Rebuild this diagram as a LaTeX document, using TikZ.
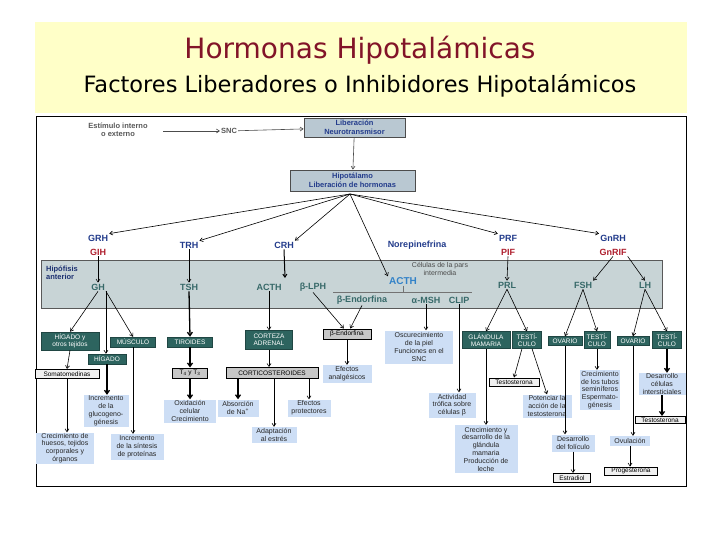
\documentclass[tikz,border=0pt]{standalone}
\usepackage{fontspec}
\setmainfont{Liberation Sans}
\newfontfamily\titlefont{DejaVu Sans}
\usetikzlibrary{arrows.meta}
\definecolor{titlered}{RGB}{130,20,40}
\definecolor{paleyellow}{RGB}{255,255,200}
\definecolor{hblue}{RGB}{35,60,140}
\definecolor{hred}{RGB}{175,30,45}
\definecolor{bandfill}{RGB}{200,212,214}
\definecolor{bandtext}{RGB}{55,105,105}
\definecolor{tealbox}{RGB}{45,100,95}
\definecolor{lightbox}{RGB}{205,222,245}
\definecolor{topfill}{RGB}{185,200,210}
\definecolor{acthblue}{RGB}{50,130,200}
\begin{document}
\begin{tikzpicture}[x=1pt,y=-1pt,
 arr/.style={-{Straight Barb[length=3pt,width=4pt]}, line width=0.6pt},
 thk/.style={-{Straight Barb[length=3.5pt,width=5pt]}, line width=1.3pt},
 tbox/.style={fill=tealbox, text=white, font=\fontsize{6.5}{7.2}\selectfont, align=center, inner sep=0.5pt, draw=tealbox!70!black, line width=0.5pt},
 lbox/.style={fill=lightbox, text=black!85, font=\fontsize{7}{7.8}\selectfont, align=center, inner sep=0.5pt},
 gbox/.style={fill=black!22, draw=black, line width=1pt, font=\fontsize{6.5}{7}\selectfont, align=center, inner sep=0.5pt},
 wbox/.style={fill=black!6, draw=black, line width=1pt, font=\fontsize{6.5}{7}\selectfont, align=center, inner sep=0.5pt},
 hl/.style={text=hblue, font=\fontsize{9}{10}\selectfont\bfseries, inner sep=1pt},
 hr/.style={text=hred, font=\fontsize{9}{10}\selectfont\bfseries, inner sep=1pt},
 bt/.style={text=bandtext, font=\fontsize{9}{10}\selectfont\bfseries, inner sep=1pt},
 topbox/.style={fill=topfill, draw=black!70, line width=0.8pt, text=hblue, font=\fontsize{7.5}{8.5}\selectfont\bfseries, align=center, inner sep=0.5pt},
 gtext/.style={text=black!65, font=\fontsize{7.5}{8.5}\selectfont\bfseries, align=center, inner sep=1pt},
 small/.style={text=black!70, font=\fontsize{7}{7.5}\selectfont, align=center, inner sep=0.5pt}
]
\useasboundingbox (0,0) rectangle (720,540);
\fill[white] (0,0) rectangle (720,540);
\fill[paleyellow] (35,22) rectangle (687,113);
\node[text=titlered, font=\titlefont\fontsize{28}{30}\selectfont] (title) at (360,50) {Hormonas Hipotalámicas};
\node[text=black, font=\titlefont\fontsize{22.5}{24}\selectfont] (subtitle) at (360,86) {Factores Liberadores o Inhibidores Hipotalámicos};
\draw[line width=1pt] (36,117) rectangle (686,486);

% top row
\node[gtext] (estimulo) at (118,130) {Estímulo interno\\o externo};
\node[gtext] (snc) at (229,131) {SNC};
\node[topbox, minimum width=101, minimum height=19] (lib) at (354.5,127.5) {Liberación\\Neurotransmisor};
\node[topbox, minimum width=125, minimum height=21] (hipo) at (352.5,180.5) {Hipotálamo\\Liberación de hormonas};
\coordinate (e1) at (163,131);
\draw[arr, black!70] (e1) -- (snc);
\draw[arr, black!70] (snc) -- (lib);
\draw[arr, black!70] (lib) -- (hipo);
\coordinate (hub) at (350,194);

% hypothalamic hormones
\node[hl] (grh) at (98,238) {GRH};
\node[hr] (gih) at (98,252) {GIH};
\node[hl] (trh) at (189,245) {TRH};
\node[hl] (crh) at (284,245) {CRH};
\node[hl] (nor) at (417,245) {Norepinefrina};
\node[hl] (prf) at (508,238) {PRF};
\node[hr] (pif) at (508,252) {PIF};
\node[hl] (gnrh) at (613,238) {GnRH};
\node[hr] (gnrif) at (613,252) {GnRIF};

% band
\node[fill=bandfill, draw=black!65, line width=0.8pt, minimum width=621, minimum height=48, inner sep=0] (band) at (351.5,284) {};
\node[text=hblue!80!black, font=\fontsize{7.5}{8.5}\selectfont\bfseries, align=left, inner sep=0.5pt] (hipof) at (62,273) {Hipófisis\\anterior};
\node[bt] (gh) at (98,287) {GH};
\node[bt] (tsh) at (189,287) {TSH};
\node[bt] (acth1) at (269,287) {ACTH};
\node[bt] (blph) at (313,287) {β-LPH};
\node[small] (pars) at (440,269) {Células de la pars\\intermedia};
\node[text=acthblue, font=\fontsize{10}{11}\selectfont\bfseries, inner sep=1pt] (acth2) at (403,281) {ACTH};
\coordinate (bl) at (333,292);
\coordinate (br) at (472,292);
\draw[black!55, line width=1pt] (bl) -- (br);
\draw[black!55, line width=0.6pt] (acth2.south) -- (acth2.south |- bl);
\node[bt] (bend) at (362,300) {β-Endorfina};
\node[bt] (amsh) at (426,300) {α-MSH};
\node[bt] (clip) at (459,300) {CLIP};
\node[bt] (prl) at (507,285) {PRL};
\node[bt] (fsh) at (583,285) {FSH};
\node[bt] (lh) at (645,285) {LH};

% fan from hypothalamus
\draw[arr] (hub) -- (grh.north east);
\draw[arr] (hub) -- (trh.north east);
\draw[arr] (hub) -- (crh.north east);
\draw[arr] (hub) -- (acth2.north west);
\draw[arr] (hub) -- (prf.north west);
\draw[arr] (hub) -- (gnrh.north west);

% into band
\coordinate (crhend) at (285,278);
\draw[arr] (gih.south) -- (gh.north);
\draw[arr] (trh.south) -- (tsh.north);
\draw[arr, line width=1pt] (crh.south) -- (crhend);
\draw[arr] (pif.south) -- (prl.north);
\draw[arr] (gnrif.south) -- (fsh.north east);
\draw[arr] (gnrif.south east) -- (lh.north);

% target organs
\node[tbox, minimum width=58, minimum height=18] (hig1) at (70,341) {HÍGADO y\\otros tejidos};
\node[tbox, minimum width=45, minimum height=10] (musc) at (133,342) {MÚSCULO};
\node[tbox, minimum width=38, minimum height=10] (hig2) at (107,359) {HÍGADO};
\node[tbox, minimum width=45, minimum height=10] (tiro) at (190,342) {TIROIDES};
\node[tbox, minimum width=47, minimum height=19] (corteza) at (269,340) {CORTEZA\\ADRENAL};
\node[gbox, minimum width=48, minimum height=10] (bendbox) at (347,334) {β-Endorfina};
\node[lbox, minimum width=68, minimum height=33] (oscur) at (419,347) {Oscurecimiento\\de la piel\\Funciones en el\\SNC};
\node[tbox, minimum width=48, minimum height=17] (glan) at (486,340) {GLÁNDULA\\MAMARIA};
\node[tbox, minimum width=29, minimum height=17] (test1) at (527,340) {TESTÍ-\\CULO};
\node[tbox, minimum width=34, minimum height=9] (ova1) at (565,341) {OVARIO};
\node[tbox, minimum width=26, minimum height=17] (test2) at (597,340) {TESTÍ-\\CULO};
\node[tbox, minimum width=32, minimum height=9] (ova2) at (633,341) {OVARIO};
\node[tbox, minimum width=29, minimum height=17] (test3) at (667,340) {TESTÍ-\\CULO};

\draw[arr] (gh.south) -- (hig1.north);
\draw[arr] (gh.south east) -- (gh.south east |- hig2.north);
\draw[arr] (gh.south east) -- (musc.north);
\draw[thk] (tsh.south) -- (tiro.north);
\draw[arr] (acth1.south) -- (corteza.north);
\draw[arr] (blph.south) -- (bendbox.120);
\draw[arr] (bend.south) -- (bendbox.60);
\draw[arr] (amsh.south) -- (amsh.south |- oscur.north);
\draw[arr] (prl.south) -- (glan.north);
\draw[arr] (prl.south) -- (test1.north);
\draw[arr] (fsh.south) -- (ova1.north);
\draw[arr] (fsh.south) -- (test2.north);
\draw[arr] (lh.south) -- (ova2.north);
\draw[arr] (lh.south) -- (test3.north);

% effects
\node[wbox, minimum width=64, minimum height=9] (somat) at (67,374) {Somatomedinas};
\node[lbox, minimum width=58, minimum height=31] (crec) at (65,448) {Crecimiento de\\huesos, tejidos\\corporales y\\órganos};
\node[lbox, minimum width=45, minimum height=32] (gluc) at (106,411) {Incremento\\de la\\glucogeno-\\génesis};
\node[lbox, minimum width=53, minimum height=26] (prot) at (137,447) {Incremento\\de la síntesis\\de proteínas};
\node[gbox, minimum width=35, minimum height=10] (t4) at (190,373) {T\textsubscript{4} y T\textsubscript{3}};
\node[lbox, minimum width=52, minimum height=23] (oxid) at (190,411) {Oxidación\\celular\\Crecimiento};
\node[gbox, minimum width=92, minimum height=11] (cortico) at (272,373) {CORTICOSTEROIDES};
\node[lbox, minimum width=41, minimum height=17] (absor) at (238,408) {Absorción\\de Na\textsuperscript{+}};
\node[lbox, minimum width=45, minimum height=16] (adapt) at (274,435) {Adaptación\\al estrés};
\node[lbox, minimum width=43, minimum height=17] (efprot) at (309,408) {Efectos\\protectores};
\node[lbox, minimum width=49, minimum height=18] (analg) at (347,374) {Efectos\\analgésicos};
\node[lbox, minimum width=47, minimum height=25] (activ) at (452,405) {Actividad\\trófica sobre\\células β};
\node[lbox, minimum width=63, minimum height=48] (leche) at (486,449) {Crecimiento y\\desarrollo de la\\glándula\\mamaria\\Producción de\\leche};
\node[wbox, minimum width=50, minimum height=8] (testo1) at (514,382) {Testosterona};
\node[lbox, minimum width=49, minimum height=23] (poten) at (547,406) {Potenciar la\\acción de la\\testosterona};
\node[lbox, minimum width=43, minimum height=17] (desfol) at (573,443) {Desarrollo\\del folículo};
\node[wbox, minimum width=37, minimum height=9] (estrad) at (572,478) {Estradiol};
\node[lbox, minimum width=40, minimum height=40] (tubos) at (600,390) {Crecimiento\\de los tubos\\seminíferos\\Espermato-\\génesis};
\node[lbox, minimum width=40, minimum height=10] (ovul) at (630,441) {Ovulación};
\node[wbox, minimum width=53, minimum height=8] (proges) at (631,471) {Progesterona};
\node[lbox, minimum width=47, minimum height=22] (desint) at (662,384) {Desarrollo\\células\\intersticiales};
\node[wbox, minimum width=50, minimum height=7] (testo2) at (660,420) {Testosterona};

\draw[arr] (hig1.south) -- (somat.north);
\draw[arr] (somat.south) -- (somat.south |- crec.north);
\draw[thk] (hig2.south) -- (hig2.south |- gluc.north);
\draw[arr] (musc.south) -- (musc.south |- prot.north);
\draw[thk] (tiro.south) -- (t4.north);
\draw[thk] (t4.south) -- (oxid.north);
\draw[arr] (corteza.south) -- (corteza.south |- cortico.north);
\draw[thk] (absor.north |- cortico.south) -- (absor.north);
\draw[arr] (adapt.north |- cortico.south) -- (adapt.north);
\draw[arr] (efprot.north |- cortico.south) -- (efprot.north);
\draw[arr] (bendbox.south) -- (analg.north);
\draw[arr] (clip.south) -- (clip.south |- activ.north);
\draw[arr] (glan.south) -- (glan.south |- leche.north);
\draw[arr] (test1.240) -- (testo1.north);
\draw[arr] (test1.300) -- (poten.north);
\draw[arr] (ova1.south) -- (ova1.south |- desfol.north);
\draw[arr] (desfol.south) -- (desfol.south |- estrad.north);
\draw[arr] (test2.south) -- (test2.south |- tubos.north);
\draw[arr] (ova2.south) -- (ova2.south |- ovul.north);
\draw[arr] (ovul.south) -- (ovul.south |- proges.north);
\draw[thk] (test3.south) -- (test3.south |- desint.north);
\draw[thk] (desint.south) -- (desint.south |- testo2.north);
\end{tikzpicture}
\end{document}
